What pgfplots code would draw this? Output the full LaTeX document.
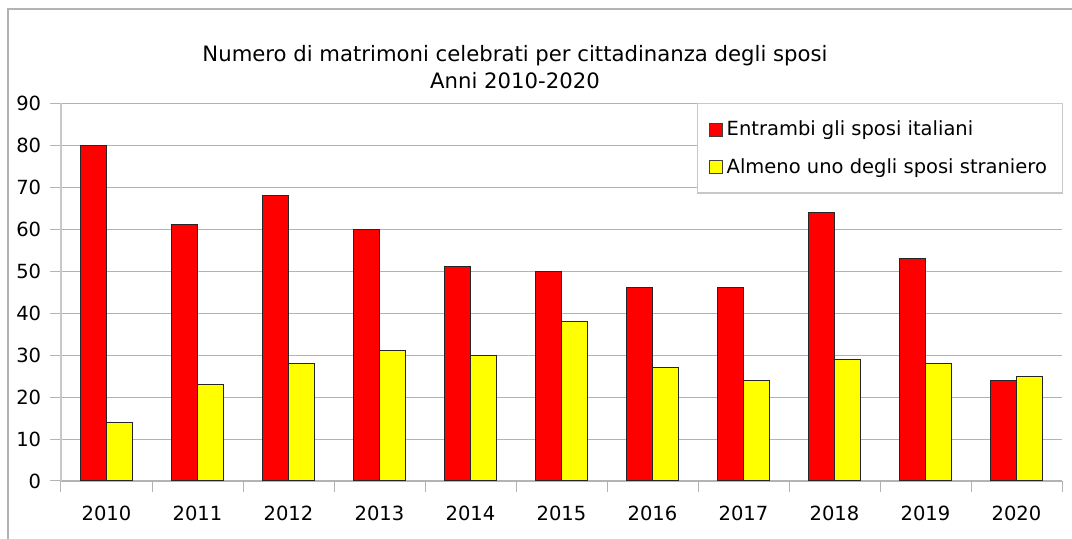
\documentclass[border=0pt]{standalone}
\usepackage{fontspec}
\setmainfont{DejaVu Sans}
\usepackage{pgfplots}
\pgfplotsset{compat=1.18}
\definecolor{gridc}{RGB}{179,179,179}
\definecolor{axc}{RGB}{200,200,200}
\definecolor{barred}{RGB}{255,0,0}
\definecolor{baryel}{RGB}{255,255,0}
\begin{document}
\fontsize{9.75}{11.7}\selectfont
\begin{tikzpicture}
\begin{scope}[x=0.5pt,y=-0.5pt]
\useasboundingbox (0,0) rectangle (1072,539);
\draw[gridc, line width=0.6pt] (8,539) -- (8,9) -- (1072,9);
\node[align=center, font=\fontsize{10.6}{13.5}\selectfont, inner sep=0pt] at (515,67) {Numero di matrimoni celebrati per cittadinanza degli sposi\\Anni 2010-2020};
\end{scope}
\begin{axis}[
  at={(30.5pt,-240.5pt)}, anchor=south west,
  scale only axis, width=500.5pt, height=189pt,
  ybar=0pt, bar width=13pt,
  ymin=0, ymax=90, ytick={0,10,...,90},
  xmin=-0.5, xmax=10.5,
  xtick={-0.5,0.5,...,10.5}, xticklabels={},
  extra x ticks={0,1,...,10},
  extra x tick labels={2010,2011,2012,2013,2014,2015,2016,2017,2018,2019,2020},
  extra x tick style={major tick length=0pt},
  axis lines*=left,
  x axis line style={gridc, line width=0.6pt},
  y axis line style={axc, line width=0.6pt},
  tick style={gridc, line width=0.5pt},
  tick align=outside, major tick length=5.5pt,
  ymajorgrids, grid style={gridc, line width=0.5pt},
  /pgf/number format/assume math mode=true,
  tick label style={font=\fontsize{9.75}{11.7}\selectfont},
  yticklabel style={xshift=-1pt},
  xticklabel style={yshift=-9pt},
  legend cell align=left,
  legend style={at={(rel axis cs:1,1)}, anchor=north east, xshift=0.5pt,
    draw=axc, line width=0.6pt, fill=white, inner xsep=5.75pt, inner ysep=6.5pt,
    row sep=6pt, font=\fontsize{9.75}{11.7}\selectfont},
  legend image code/.code={\draw[#1, draw=black!75, line width=0.4pt] (0pt,-3.25pt) rectangle (6.5pt,3.25pt);},
]
\addplot[fill=barred, draw=black!85, line width=0.5pt] coordinates {(0,80) (1,61) (2,68) (3,60) (4,51) (5,50) (6,46) (7,46) (8,64) (9,53) (10,24)};
\addplot[fill=baryel, draw=black!85, line width=0.5pt] coordinates {(0,14) (1,23) (2,28) (3,31) (4,30) (5,38) (6,27) (7,24) (8,29) (9,28) (10,25)};
\legend{Entrambi gli sposi italiani, Almeno uno degli sposi straniero}
\end{axis}
\end{tikzpicture}
\end{document}
